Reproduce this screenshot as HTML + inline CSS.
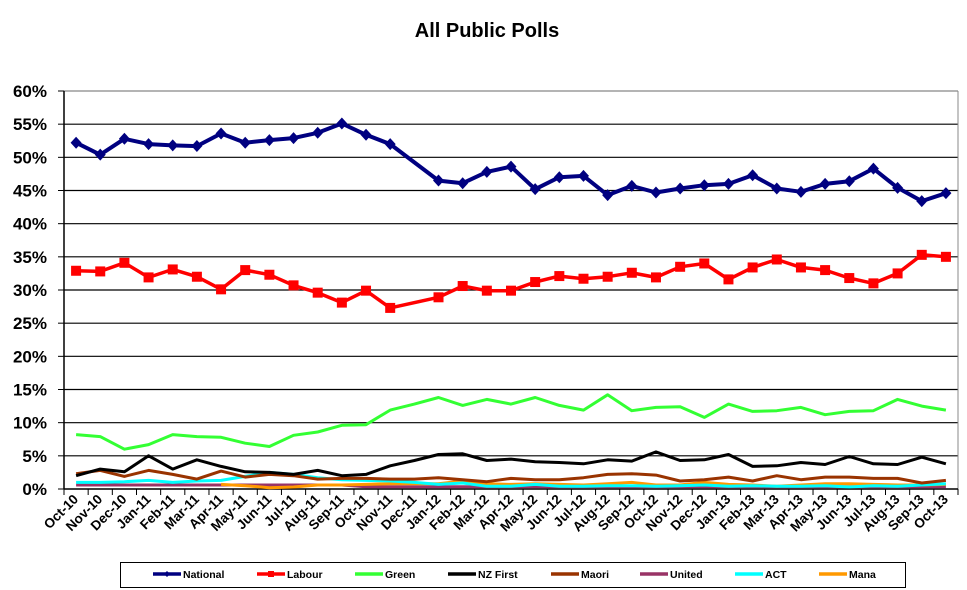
<!DOCTYPE html>
<html><head><meta charset="utf-8"><style>
body{margin:0;background:#fff;}
svg{display:block;font-family:"Liberation Sans",Arial,sans-serif;}
</style></head><body>
<svg id="c" width="967" height="590" viewBox="0 0 967 590" xmlns="http://www.w3.org/2000/svg">
<text x="487" y="37" text-anchor="middle" font-size="20" font-weight="bold">All Public Polls</text>
</svg>
<script>
var s=document.getElementById('c'),NS='http://www.w3.org/2000/svg';
function el(t,a,txt){var e=document.createElementNS(NS,t);for(var k in a)e.setAttribute(k,a[k]);if(txt!=null)e.textContent=txt;s.appendChild(e);return e;}
var L=64,R=958,T=91,B=489,n=37,w=(R-L)/n;
function X(i){return L+w/2+i*w;}function Y(v){return B-(v/60)*(B-T);}
for(var p=0;p<=60;p+=5){var y=Y(p);if(p>0)el('line',{x1:L,y1:y,x2:R,y2:y,stroke:p==60?'#888':'#000','stroke-width':1.2});
el('line',{x1:L-6,y1:y,x2:L,y2:y,stroke:'#000','stroke-width':1});
el('text',{x:47,y:y+6,'text-anchor':'end','font-size':17,'font-weight':'bold'},p+'%');}
el('line',{x1:L,y1:T,x2:L,y2:B,stroke:'#000','stroke-width':1.5});
el('line',{x1:R,y1:T,x2:R,y2:B,stroke:'#888','stroke-width':1});
el('line',{x1:L,y1:B,x2:R,y2:B,stroke:'#000','stroke-width':1.5});
var mon=['Jan','Feb','Mar','Apr','May','Jun','Jul','Aug','Sep','Oct','Nov','Dec'];
for(var i=0;i<=n;i++){var x=L+i*w;el('line',{x1:x,y1:B,x2:x,y2:B+6,stroke:'#000','stroke-width':1});}
for(var i=0;i<n;i++){var m=(9+i)%12,yr=10+Math.floor((9+i)/12);var x=X(i)+3,y=B+11;
el('text',{x:x,y:y,'text-anchor':'end','font-size':13.5,'font-weight':'bold',transform:'rotate(-45 '+x+' '+y+')'},mon[m]+'-'+yr);}
var nat=[52.2,50.4,52.8,52.0,51.8,51.7,53.6,52.2,52.6,52.9,53.7,55.1,53.4,52.0,null,46.5,46.1,47.8,48.6,45.2,47.0,47.2,44.3,45.7,44.7,45.3,45.8,46.0,47.3,45.3,44.8,46.0,46.4,48.3,45.4,43.4,44.6];
var lab=[32.9,32.8,34.1,31.9,33.1,32.0,30.1,33.0,32.3,30.7,29.6,28.1,29.9,27.3,null,28.9,30.6,29.9,29.9,31.2,32.1,31.7,32.0,32.6,31.9,33.5,34.0,31.6,33.4,34.6,33.4,33.0,31.8,31.0,32.5,35.3,35.0];
var grn=[8.2,7.9,6.0,6.7,8.2,7.9,7.8,6.9,6.4,8.1,8.6,9.6,9.7,11.9,12.8,13.8,12.6,13.5,12.8,13.8,12.6,11.9,14.2,11.8,12.3,12.4,10.8,12.8,11.7,11.8,12.3,11.2,11.7,11.8,13.5,12.5,11.9];
var nzf=[2.0,3.0,2.6,5.0,3.0,4.4,3.4,2.6,2.5,2.2,2.8,2.0,2.2,3.5,4.3,5.2,5.3,4.3,4.5,4.1,4.0,3.8,4.4,4.2,5.6,4.3,4.4,5.2,3.4,3.5,4.0,3.7,4.9,3.8,3.7,4.8,3.8];
var mao=[2.3,2.8,1.9,2.8,2.2,1.5,2.7,1.8,2.2,2.0,1.5,1.6,1.6,1.5,1.5,1.7,1.4,1.1,1.6,1.4,1.4,1.7,2.2,2.3,2.1,1.2,1.4,1.8,1.2,2.0,1.4,1.8,1.8,1.6,1.6,0.9,1.3];
var uni=[];for(var i=0;i<n;i++)uni.push(i<12?0.6:0.35);
var act=[1.0,1.0,1.1,1.3,1.0,1.2,1.3,1.9,2.5,2.2,1.7,1.4,1.3,1.2,1.0,0.7,0.9,0.4,0.4,0.7,0.4,0.4,0.5,0.5,0.4,0.5,0.6,0.4,0.5,0.4,0.4,0.5,0.3,0.5,0.4,0.6,0.8];
var man=[null,null,null,null,null,null,0.7,0.5,0.2,0.3,0.6,0.6,0.7,0.8,0.8,0.8,1.2,0.8,0.7,0.8,0.7,0.6,0.8,1.0,0.6,0.6,1.0,0.7,0.6,0.4,0.6,0.8,0.8,0.7,0.6,0.6,0.7];
function line(d,c,sw){var pts=[];d.forEach(function(v,i){if(v!=null)pts.push(X(i).toFixed(1)+','+Y(v).toFixed(1));});
el('polyline',{points:pts.join(' '),fill:'none',stroke:c,'stroke-width':sw,'stroke-linejoin':'round'});}
line(uni,'#993366',3);line(man,'#FF9900',3);line(act,'#00FFFF',3);line(mao,'#993300',3);line(nzf,'#000',3);line(grn,'#33FF33',3);
line(lab,'#FF0000',3.5);lab.forEach(function(v,i){if(v!=null)el('rect',{x:X(i)-5,y:Y(v)-5,width:10,height:10,fill:'#FF0000'});});
line(nat,'#000080',4);nat.forEach(function(v,i){if(v!=null){var x=X(i),y=Y(v);el('polygon',{points:(x)+','+(y-6)+' '+(x+5.5)+','+y+' '+x+','+(y+6)+' '+(x-5.5)+','+y,fill:'#000080'});}});
el('rect',{x:120.5,y:562.5,width:785,height:25,fill:'#fff',stroke:'#000','stroke-width':1});
var lg=[['National','#000080',153],['Labour','#FF0000',257],['Green','#33FF33',355],['NZ First','#000',448],['Maori','#993300',551],['United','#993366',640],['ACT','#00FFFF',735],['Mana','#FF9900',819]];
lg.forEach(function(g){el('line',{x1:g[2],y1:574,x2:g[2]+28,y2:574,stroke:g[1],'stroke-width':3.5});
if(g[0]=='National')el('polygon',{points:'167,571 170,574 167,577 164,574',fill:g[1]});
if(g[0]=='Labour')el('rect',{x:268,y:571,width:6,height:6,fill:g[1]});
el('text',{x:g[2]+30,y:578,'font-size':10.5,'font-weight':'bold'},g[0]);});
</script>
</body></html>
